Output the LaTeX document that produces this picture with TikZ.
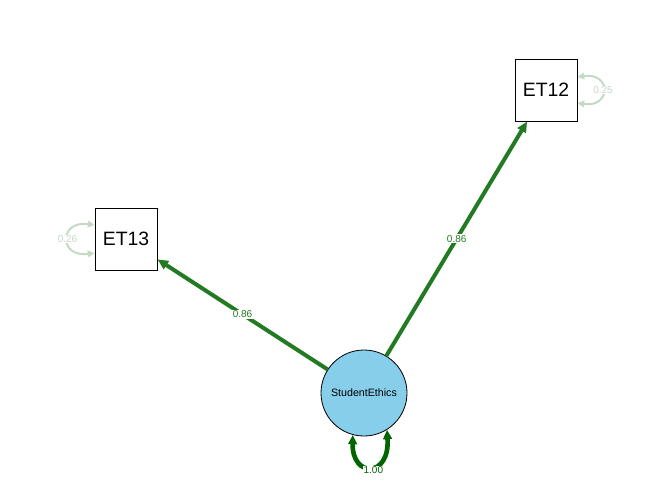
\documentclass[tikz,border=0pt]{standalone}
\usepackage{fontspec}
\setmainfont{Liberation Sans}
\usetikzlibrary{arrows.meta,calc}
\definecolor{pathgreen}{RGB}{34,122,34}
\definecolor{loopgreen}{RGB}{0,100,0}
\definecolor{residgreen}{RGB}{196,218,196}
\definecolor{latentblue}{RGB}{135,206,235}

\begin{document}
\begin{tikzpicture}[x=0.75pt,y=-0.75pt,
	manifest/.style={draw=black,line width=0.75pt,minimum size=46.5pt,inner sep=0pt,font=\fontsize{14.5}{16}\selectfont},
	latent/.style={circle,draw=black,line width=0.6pt,fill=latentblue,minimum size=64.5pt,inner sep=0pt,font=\fontsize{8}{9}\selectfont},
	loading/.style={draw=pathgreen,line width=3pt,-{Triangle[length=8pt,width=7pt]}},
	varloop/.style={draw=loopgreen,line width=3.5pt,{Triangle[length=7pt,width=6.5pt]}-{Triangle[length=7pt,width=6.5pt]}},
	resid/.style={draw=residgreen,line width=1.5pt,{Triangle[length=5pt,width=5pt]}-{Triangle[length=5pt,width=5pt]}},
	est/.style={fill=white,inner sep=0.6pt,font=\fontsize{7.5}{8}\selectfont}]
	\useasboundingbox (0,0) rectangle (672,480);
	\node[manifest] (et12) at (546,90) {ET12};
	\node[manifest] (et13) at (126,239) {ET13};
	\node[latent] (ethics) at (364,393) {StudentEthics};
	\draw[loading] (ethics) -- (et13) node[pos=0.5,est,text=pathgreen] {0.86};
	\draw[loading] (ethics) -- (et12) node[pos=0.5,est,text=pathgreen] {0.86};
	\draw[varloop] (ethics.255) .. controls (352,478) and (390,478) .. (ethics.302) node[pos=0.5,est,text=loopgreen,yshift=-2.5pt,xshift=2pt] {1.00};
	\draw[resid] ($(et12.east)+(0,-13)$) .. controls +(34,-5) and +(34,5) .. ($(et12.east)+(0,13)$) node[pos=0.5,est,text=residgreen] {0.25};
	\draw[resid] ($(et13.west)+(0,-14)$) .. controls +(-36,-5) and +(-36,5) .. ($(et13.west)+(0,14)$) node[pos=0.5,est,text=residgreen] {0.26};
\end{tikzpicture}
\end{document}
